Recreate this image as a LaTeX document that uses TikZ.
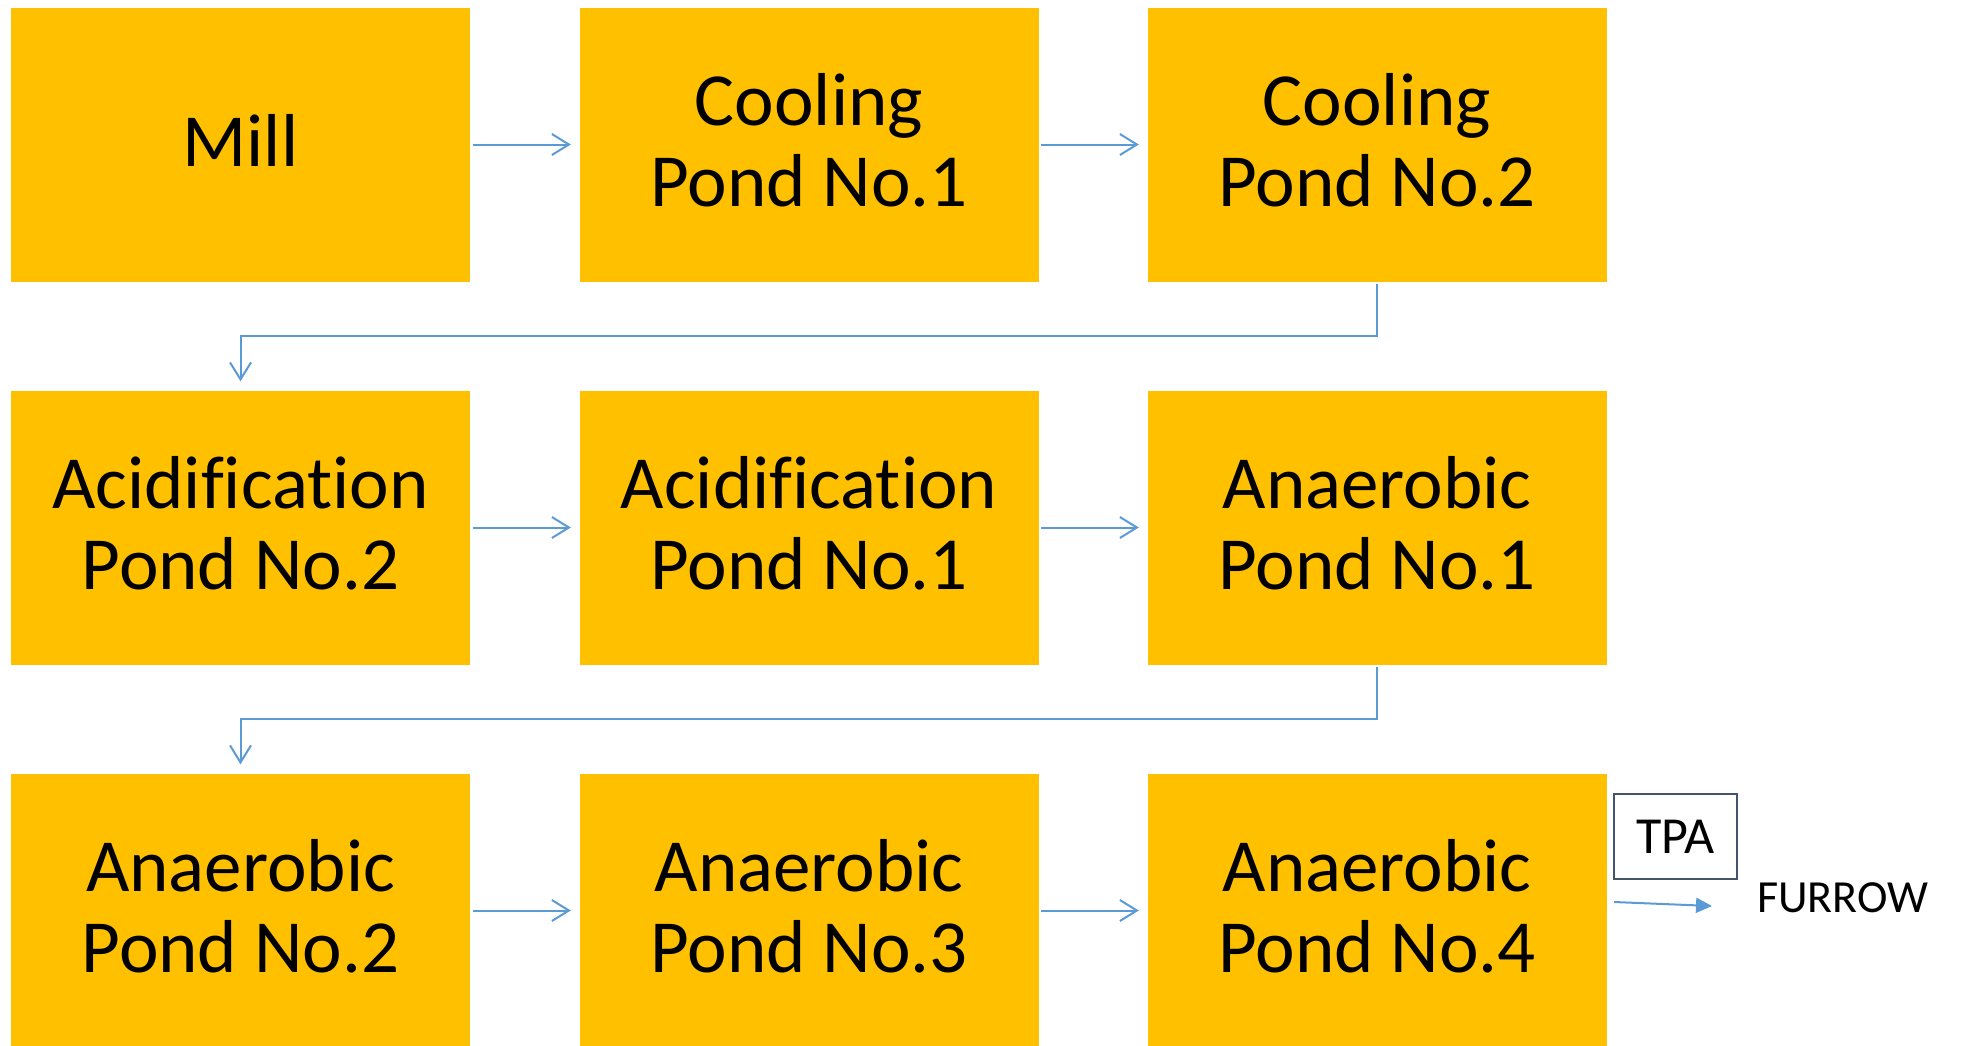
\documentclass[tikz,border=0pt]{standalone}
\usepackage{fontspec}
\setmainfont{Carlito}[Ligatures=NoCommon]
\usetikzlibrary{arrows.meta,calc}
\definecolor{pondyellow}{HTML}{FFC000}
\definecolor{linkblue}{HTML}{5B9BD5}
\definecolor{slateedge}{HTML}{44546A}
\tikzset{
  pondbox/.style={fill=pondyellow, draw=none, minimum width=459pt, minimum height=274pt,
    inner sep=0pt},
  pondtext/.style={inner sep=0pt, align=center, font=\fontsize{75pt}{81pt}\selectfont},
  conn/.style={draw=linkblue, line width=2pt, -{Straight Barb[length=17pt,width=21pt]}},
  fconn/.style={draw=linkblue, line width=2pt, -{Triangle[length=16pt,width=15pt]}},
}
\begin{document}
\begin{tikzpicture}[x=1pt,y=-1pt]
\useasboundingbox (0,0) rectangle (1962,1045);
\foreach \n/\x/\y/\t in {c11/240.5/144.5/{Mill},
  c12/809/144.5/{Cooling\\Pond No.1},
  c13/1377/144.5/{Cooling\\Pond No.2},
  c21/240.5/527.5/{Acidification\\Pond No.2},
  c22/809/527.5/{Acidification\\Pond No.1},
  c23/1377/527.5/{Anaerobic\\Pond No.1},
  c31/240.5/910.5/{Anaerobic\\Pond No.2},
  c32/809/910.5/{Anaerobic\\Pond No.3},
  c33/1377/910.5/{Anaerobic\\Pond No.4}}{
  \node[pondbox] (\n) at (\x,\y) {};
  \node[pondtext] (\n-t) at ([yshift=4pt]\n.center) {\t};
}
\node[draw=slateedge, line width=1.4pt, minimum width=123pt, minimum height=85pt, inner sep=0pt,
  font=\fontsize{52pt}{60pt}\selectfont] (tpa) at (1675.5,836.5) {TPA};
\node[anchor=base west, inner sep=0pt, font=\fontsize{46pt}{54pt}\selectfont] (furrow) at (1757,912.5) {FURROW};
% horizontal connectors
\foreach \a/\b in {c11/c12,c12/c13,c21/c22,c22/c23,c31/c32,c32/c33}{
  \draw[conn, shorten <=2.5pt, shorten >=8.5pt] (\a.east) -- (\b.west);
}
% row-change connectors
\draw[conn, shorten <=2.5pt, shorten >=9pt] (c13.south) -- ($(c13.south)!0.5!(c13.south |- c21.north)$) -| (c21.north);
\draw[conn, shorten <=2.5pt, shorten >=9pt] (c23.south) -- ($(c23.south)!0.5!(c23.south |- c31.north)$) -| (c31.north);
% outflow
\coordinate (fs) at (1614,902);
\coordinate (fe) at (1712,906);
\draw[fconn] (fs) -- (fe);
\end{tikzpicture}
\end{document}
